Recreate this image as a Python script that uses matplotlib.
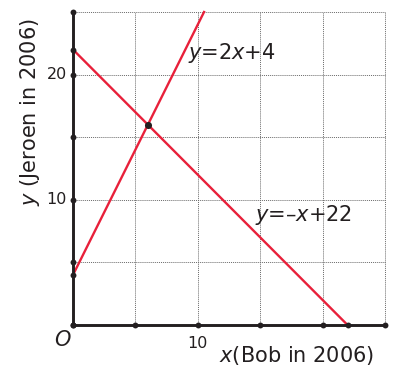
import matplotlib.pyplot as plt
import numpy as np

plt.rcParams['font.family'] = 'DejaVu Sans'
plt.rcParams['mathtext.fontset'] = 'dejavusans'

RED = '#e8203a'
INK = '#231f20'

# two lines y = a*x + b
slopes = [2, -1]
intercepts = [4, 22]
line_labels = [r'$y$=2$x$+4', r'$y$=–$x$+22']
label_pos = [(9.2, 21.7), (14.6, 8.8)]

grid_steps = [5, 10, 15, 20, 25]
x_dots = [0, 5, 10, 15, 20, 22, 25]
y_dots = [0, 4, 5, 10, 15, 20, 22, 25]
crossing = (6, 16)
y_tick_labels = {10: '10', 20: '20'}
x_tick_labels = {10: '10'}

fig = plt.figure(figsize=(3.95, 3.69), dpi=100)
ax = fig.add_axes([73 / 395, 44 / 369, 312 / 395, 313 / 369])
ax.set_xlim(0, 25)
ax.set_ylim(0, 25)
ax.axis('off')

# dotted grid
for g in grid_steps:
    ax.plot([g, g], [0, 25], ls=(0, (1, 1)), color='#6a6a6a', lw=0.7, clip_on=False, zorder=1)
    ax.plot([0, 25], [g, g], ls=(0, (1, 1)), color='#6a6a6a', lw=0.7, clip_on=False, zorder=1)

# lines, cut off at the top of the grid
for a, b in zip(slopes, intercepts):
    x_end = (25 - b) / a if a > 0 else -b / a
    xs = np.array([0, x_end])
    ax.plot(xs, a * xs + b, color=RED, lw=1.7, clip_on=False, zorder=3)

# axes
ax.plot([0, 25], [0, 0], color=INK, lw=2.1, clip_on=False, zorder=4, solid_capstyle='butt')
ax.plot([0, 0], [0, 25], color=INK, lw=2.1, clip_on=False, zorder=4, solid_capstyle='butt')
ax.scatter(x_dots, [0] * len(x_dots), s=18, color=INK, zorder=5, clip_on=False, linewidths=0)
ax.scatter([0] * len(y_dots), y_dots, s=18, color=INK, zorder=5, clip_on=False, linewidths=0)
ax.scatter([crossing[0]], [crossing[1]], s=26, color=INK, zorder=5, clip_on=False, linewidths=0)

for (tx, ty), lab in zip(label_pos, line_labels):
    ax.text(tx, ty, lab, fontsize=15, color=INK, ha='left', va='center')

for v, lab in y_tick_labels.items():
    ax.text(-0.5, v, lab, fontsize=11.5, color=INK, ha='right', va='center', clip_on=False)
for v, lab in x_tick_labels.items():
    ax.text(v, -1.45, lab, fontsize=11.5, color=INK, ha='center', va='center', clip_on=False)

ax.text(-0.8, -1.2, r'$O$', fontsize=15, color=INK, ha='center', va='center')
ax.text(11.7, -2.4, r'$x$(Bob in 2006)', fontsize=15, color=INK, ha='left', va='center')
ax.text(-3.45, 17.0, r'$y$ (Jeroen in 2006)', fontsize=15, color=INK, rotation=90,
        ha='center', va='center')

fig.savefig('out.png', dpi=100)
